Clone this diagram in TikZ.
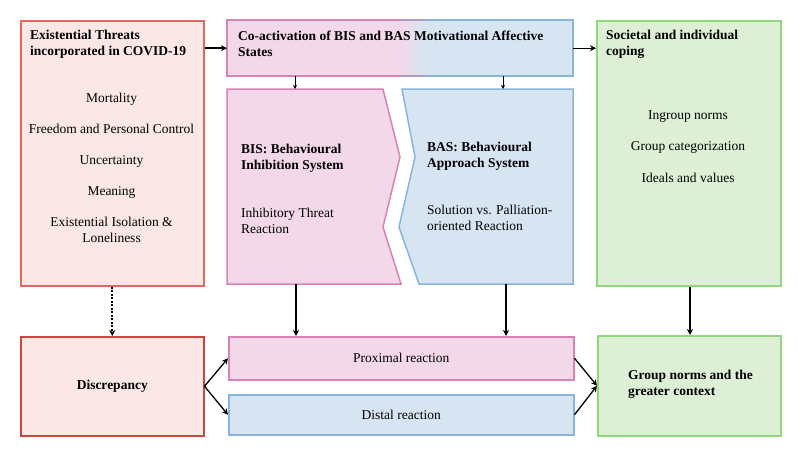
\documentclass[tikz,border=0pt]{standalone}
\usepackage{fontspec}
\setmainfont{Liberation Serif}
\usepackage{xcolor}
\usetikzlibrary{arrows.meta}
\definecolor{redfill}{HTML}{FBE8E6}
\definecolor{redline}{HTML}{E2675E}
\definecolor{darkred}{HTML}{C9483E}
\definecolor{pinkfill}{HTML}{F2D8E8}
\definecolor{pinkline}{HTML}{D982B6}
\definecolor{bluefill}{HTML}{D7E5F3}
\definecolor{blueline}{HTML}{88B5DE}
\definecolor{greenfill}{HTML}{DDF0D6}
\definecolor{greenline}{HTML}{8ED87B}

\begin{document}
\begin{tikzpicture}[x=1pt, y=-1pt,
  txt/.style={font=\fontsize{13.5}{16}\selectfont, inner sep=0pt},
  head/.style={inner sep=0pt, font=\fontsize{13.5}{16}\selectfont\bfseries, align=left},
  box/.style={draw, line width=1.5pt, inner sep=0pt, anchor=north west},
  arr/.style={-{Stealth[length=6pt,width=6pt]}, line width=1.3pt},
  small arr/.style={-{Stealth[length=4pt,width=4pt]}, line width=1pt}]
\useasboundingbox [fill=white] (0,0) rectangle (800,455);

% existential threats
\node [box, draw=redline, fill=redfill, minimum width=183pt, minimum height=265pt] (threats) at (20,20) {};
\node [head, anchor=north west] (threatshead) at (30,30) {Existential Threats\\incorporated in COVID-19};
\foreach \item [count=\i] in {Mortality, Freedom and Personal Control, Uncertainty, Meaning, {Existential Isolation \&\\Loneliness}}
  \node [txt, align=center, anchor=north] (threat\i) at (111.5,{93+31*(\i-1)}) {\item};

% co-activation box, pink fading into blue
\fill [pinkfill] (227,20) rectangle (400,76);
\shade [left color=pinkfill, right color=bluefill] (400,20) rectangle (426,76);
\fill [bluefill] (426,20) rectangle (573,76);
\draw [pinkline, line width=1.5pt] (400,20) -- (227,20) -- (227,76) -- (400,76);
\draw [pinkline!50!blueline, line width=1.5pt] (400,20) -- (426,20) (400,76) -- (426,76);
\draw [blueline, line width=1.5pt] (426,20) -- (573,20) -- (573,76) -- (426,76);
\node [inner sep=0pt, minimum width=346pt, minimum height=56pt, anchor=north west] (coact) at (227,20) {};
\node [head, anchor=north west] (coacthead) at (238,30.5) {Co-activation of BIS and BAS Motivational Affective\\States};

% BIS and BAS arrows
\draw [pinkline, fill=pinkfill, line width=1.5pt] (227,89) -- (383,89) -- (400,157) -- (383,227) -- (401,284) -- (227,284) -- cycle;
\draw [blueline, fill=bluefill, line width=1.5pt] (402,89) -- (573,89) -- (573,284) -- (419,284) -- (399,227) -- (415,157) -- cycle;
\coordinate (bisN) at (295,89);
\coordinate (bisS) at (296,284);
\coordinate (basN) at (503,89);
\coordinate (basS) at (506,284);
\node [head, anchor=north west] (bishead) at (241,144) {BIS: Behavioural\\Inhibition System};
\node [txt, align=left, anchor=north west] (bistext) at (241,208) {Inhibitory Threat\\Reaction};
\node [head, anchor=north west] (bashead) at (427,142) {BAS: Behavioural\\Approach System};
\node [txt, align=left, anchor=north west] (bastext) at (427,205) {Solution vs. Palliation-\\oriented Reaction};

% coping
\node [box, draw=greenline, fill=greenfill, minimum width=184pt, minimum height=265pt] (coping) at (596,20) {};
\node [head, anchor=north west] (copinghead) at (606,29.5) {Societal and individual\\coping};
\foreach \item [count=\i] in {Ingroup norms, Group categorization, Ideals and values}
  \node [txt, anchor=north] (coping\i) at (688,{110+31.5*(\i-1)}) {\item};

% bottom row
\node [box, draw=darkred, fill=redfill, minimum width=183pt, minimum height=99pt] (discrepancy) at (20,336) {};
\node [head] at (discrepancy.center) {Discrepancy};
\node [box, draw=pinkline, fill=pinkfill, minimum width=345pt, minimum height=43pt] (proximal) at (228,336) {};
\node [txt] at (proximal.center) {Proximal reaction};
\node [box, draw=blueline, fill=bluefill, minimum width=345pt, minimum height=40pt] (distal) at (228,394) {};
\node [txt] at (distal.center) {Distal reaction};
\node [box, draw=greenline, fill=greenfill, minimum width=183pt, minimum height=100pt] (group) at (597,335) {};
\node [head, anchor=west] (grouphead) at (628,384) {Group norms and the\\greater context};

% connectors
\draw [arr, line width=1.8pt] (threats.east |- coact.west) -- (coact.west);
\draw [arr] (coact.east) -- (coact.east -| coping.west);
\draw [small arr] (coact.south -| bisN) -- (bisN);
\draw [small arr] (coact.south -| basN) -- (basN);
\draw [arr, line width=2pt, dash pattern=on 2pt off 1.5pt] (threats.south -| discrepancy.north) -- (discrepancy.north);
\draw [arr] (bisS) -- (bisS |- proximal.north);
\draw [arr] (basS) -- (basS |- proximal.north);
\draw [arr] (coping.south -| 690,0) -- (group.north -| 690,0);
\draw [arr] (discrepancy.east) -- (proximal.west);
\draw [arr] (discrepancy.east) -- (distal.west);
\draw [arr] (proximal.east) -- (group.west);
\draw [arr] (distal.east) -- (group.west);
\end{tikzpicture}
\end{document}
